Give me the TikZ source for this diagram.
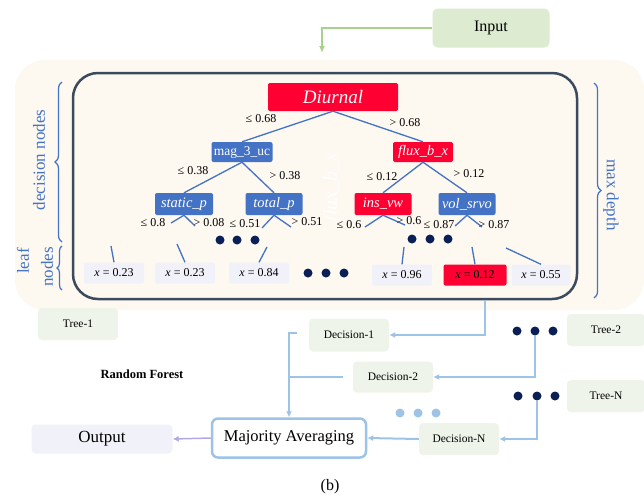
\documentclass[tikz,border=0pt]{standalone}
\usepackage{fontspec}
\setmainfont{Liberation Serif}
\usetikzlibrary{decorations.pathreplacing,arrows.meta}
\definecolor{nred}{HTML}{FF0033}
\definecolor{nblue}{HTML}{4472C4}
\definecolor{framec}{HTML}{3B4A5E}
\definecolor{beige}{HTML}{FDF8F0}
\definecolor{navy}{HTML}{0B1F57}
\definecolor{lblue}{HTML}{9DC3E6}
\definecolor{lgreen}{HTML}{EEF4EA}
\definecolor{igreen}{HTML}{DDEBD1}
\definecolor{lav}{HTML}{F1F1FA}
\definecolor{garrow}{HTML}{A9D18E}
\definecolor{parrow}{HTML}{B4A7E5}
\tikzset{
 tn/.style={rounded corners=2pt, text=white, font=\fontsize{13.5}{14}\selectfont, minimum height=21pt, inner sep=0pt},
 tni/.style={tn, font=\itshape\fontsize{14.5}{15}\selectfont},
 leafbox/.style={fill=lav, rounded corners=2pt, minimum width=60pt, minimum height=21pt, inner sep=0pt, font=\fontsize{12}{13}\selectfont},
 cond/.style={font=\fontsize{12}{13}\selectfont, inner sep=0pt},
 edge/.style={nblue, line width=1.3pt},
 bigdot/.style={circle, fill=navy, minimum size=9pt, inner sep=0pt},
 ldot/.style={circle, fill=lblue, minimum size=9pt, inner sep=0pt},
 gbox/.style={fill=lgreen, rounded corners=4pt, inner sep=0pt, font=\fontsize{11.5}{13}\selectfont},
 flow/.style={lblue, line width=2pt, -{Latex[length=6pt,width=6pt]}},
 bracec/.style={nblue, line width=1.2pt, decorate},
 sidetext/.style={text=nblue, font=\fontsize{17}{19}\selectfont, inner sep=0pt},
}
\begin{document}
\begin{tikzpicture}[x=1pt,y=-1pt]
\useasboundingbox (0,0) rectangle (644,499);
% background panels
\fill[beige, rounded corners=30pt] (15,60) rectangle (644,310);
\draw[framec, line width=2.5pt, rounded corners=25pt] (73,73) rectangle (577,299);
% watermark text
\node[text=white, rotate=90, font=\itshape\fontsize{20}{21}\selectfont] (wm) at (332,187) {flux\_b\_x};
% input
\node[fill=igreen, rounded corners=5pt, minimum width=117pt, minimum height=39pt, font=\fontsize{16}{18}\selectfont] (input) at (491,28) {Input};
\coordinate (inend) at (322,53);
\draw[garrow, line width=1.5pt, -{Latex[length=7pt,width=6pt]}] (input.west) -| (inend);
% tree nodes
\node[tn, fill=nred, minimum width=130pt, minimum height=28pt, font=\itshape\fontsize{19}{20}\selectfont] (diurnal) at (333,97) {Diurnal};
\node[tn, fill=nblue, minimum width=61pt, minimum height=20pt] (mag) at (242,152) {mag\_3\_uc};
\node[tni, fill=nred, minimum width=60pt, minimum height=20pt] (flux) at (423,152) {flux\_b\_x};
\node[tni, fill=nblue, minimum width=58pt, minimum height=22pt] (static) at (184,204) {static\_p};
\node[tni, fill=nblue, minimum width=57pt, minimum height=22pt] (total) at (274,204) {total\_p};
\node[tni, fill=nred, minimum width=57pt, minimum height=22pt] (ins) at (383,204) {ins\_vw};
\node[tni, fill=nblue, minimum width=57pt, minimum height=22pt] (vol) at (467,204) {vol\_srvo};
% edges
\draw[edge] (diurnal.south) -- (mag.north);
\draw[edge] (diurnal.south) -- (flux.north);
\draw[edge] (mag.south) -- (static.north);
\draw[edge] (mag.south) -- (total.north);
\draw[edge] (flux.south) -- (ins.north);
\draw[edge] (flux.south) -- (vol.north);
% stubs under level-3 nodes
\coordinate (s1) at (171,223); \coordinate (s2) at (195,226);
\coordinate (t1) at (262,228); \coordinate (t2) at (291,227);
\coordinate (i1) at (365,227); \coordinate (i2) at (405,225);
\coordinate (v1) at (455,226); \coordinate (v2) at (482,227);
\draw[edge] (s1) -- (static.south) -- (s2);
\draw[edge] (t1) -- (total.south) -- (t2);
\draw[edge] (i1) -- (ins.south) -- (i2);
\draw[edge] (v1) -- (vol.south) -- (v2);
% condition labels
\node[cond] (c1) at (261,119) {≤ 0.68};
\node[cond] (c2) at (405,123) {> 0.68};
\node[cond] (c3) at (193,171) {≤ 0.38};
\node[cond] (c4) at (285,176) {> 0.38};
\node[cond] (c5) at (382,177) {≤ 0.12};
\node[cond] (c6) at (469,174) {> 0.12};
\node[cond] (c7) at (153,223) {≤ 0.8};
\node[cond] (c8) at (209,223) {> 0.08};
\node[cond] (c9) at (245,224) {≤ 0.51};
\node[cond] (c10) at (307,222) {> 0.51};
\node[cond] (c11) at (349,225) {≤ 0.6};
\node[cond] (c12) at (409,221) {> 0.6};
\node[cond] (c13) at (439,225) {≤ 0.87};
\node[cond] (c14) at (494,225) {> 0.87};
% dots in tree
\node[bigdot] (da1) at (220,240) {}; \node[bigdot] (da2) at (237,240) {}; \node[bigdot] (da3) at (255,240) {};
\node[bigdot] (db1) at (308,273) {}; \node[bigdot] (db2) at (326,273) {}; \node[bigdot] (db3) at (344,273) {};
\node[bigdot] (dc1) at (412,239) {}; \node[bigdot] (dc2) at (430,239) {}; \node[bigdot] (dc3) at (448,239) {};
% leaves
\node[leafbox] (l1) at (114,273) {{\itshape x} = 0.23};
\node[leafbox] (l2) at (185,273) {{\itshape x} = 0.23};
\node[leafbox] (l3) at (259,273) {{\itshape x} = 0.84};
\node[leafbox] (l4) at (402,275) {{\itshape x} = 0.96};
\node[leafbox, fill=nred, minimum width=63pt] (l5) at (475,275) {{\itshape x} = 0.12};
\node[leafbox, minimum width=59pt] (l6) at (541,275) {{\itshape x} = 0.55};
\coordinate (u1) at (111,246); \coordinate (u2) at (177,244); \coordinate (u3) at (267,247);
\coordinate (u4) at (404,247); \coordinate (u5) at (472,247); \coordinate (u6) at (506,248);
\draw[edge] (u1) -- (l1.north);
\draw[edge] (u2) -- (l2.north);
\draw[edge] (u3) -- (l3.north);
\draw[edge] (u4) -- (l4.north);
\draw[edge] (u5) -- (l5.north);
\draw[edge] (u6) -- (l6.north);
% braces
\draw[bracec, decoration={brace, amplitude=7pt}] (62,242) -- (62,82);
\draw[bracec, decoration={brace, amplitude=5pt}] (62,290) -- (62,246);
\draw[bracec, decoration={brace, amplitude=7pt}] (594,83) -- (594,298);
\node[sidetext, rotate=90] (dn) at (39,160) {decision nodes};
\node[sidetext, rotate=90] (lf) at (23,261) {leaf};
\node[sidetext, rotate=90] (nd) at (47,267) {nodes};
\node[sidetext, rotate=-90] (md) at (611,195) {max depth};
% lower part
\node[gbox, minimum width=80pt, minimum height=32pt] (tree1) at (78,324) {Tree-1};
\node[font=\bfseries\fontsize{12.5}{14}\selectfont] (rf) at (142,374) {Random Forest};
\node[fill=lav, rounded corners=4pt, minimum width=141pt, minimum height=29pt, font=\fontsize{17}{19}\selectfont] (output) at (102,439) {Output};
\node[draw=lblue, line width=2.5pt, fill=white, rounded corners=6pt, minimum width=154pt, minimum height=39pt, font=\fontsize{16.5}{18}\selectfont] (maj) at (289,438) {Majority Averaging};
\node[gbox, minimum width=80pt, minimum height=33pt] (d1) at (349,335) {Decision-1};
\node[gbox, minimum width=80pt, minimum height=31pt] (d2) at (393,377) {Decision-2};
\node[gbox, minimum width=80pt, minimum height=32pt] (dN) at (459,439) {Decision-N};
\node[gbox, minimum width=78pt, minimum height=32pt] (tree2) at (606,330) {Tree-2};
\node[gbox, minimum width=78pt, minimum height=32pt] (treeN) at (606,396) {Tree-N};
\node[bigdot] (t2a) at (517,331) {}; \node[bigdot] (t2b) at (535,331) {}; \node[bigdot] (t2c) at (553,331) {};
\node[bigdot] (tNa) at (518,396) {}; \node[bigdot] (tNb) at (537,396) {}; \node[bigdot] (tNc) at (555,396) {};
\node[ldot] (la) at (400,413) {}; \node[ldot] (lb) at (418,413) {}; \node[ldot] (lc) at (436,413) {};
% flows
\coordinate (tb) at (485,300);
\draw[flow] (tb) |- (d1.east);
\draw[flow] (t2b.south) |- (d2.east);
\draw[flow] (tNb.south) |- (dN.east);
\draw[flow] (dN.west) -- (maj.east);
\coordinate (a1) at (297,333);
\coordinate (a2) at (343,377);
\draw[flow] (a1) -| (maj.north);
\draw[lblue, line width=2pt] (a2) -- (a2 -| maj.north);
\draw[parrow, line width=1.5pt, -{Latex[length=6pt,width=6pt]}] (maj.west) -- (output.east);
\node[font=\fontsize{16}{18}\selectfont] (cap) at (330,487) {(b)};
\end{tikzpicture}
\end{document}
